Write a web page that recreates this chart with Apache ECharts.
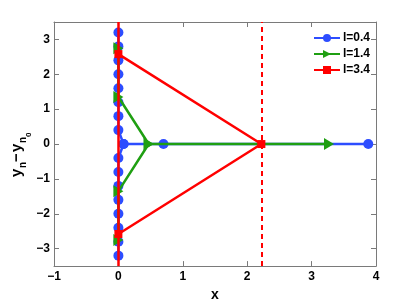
<!DOCTYPE html>
<html><head><meta charset="utf-8">
<script src="https://cdn.jsdelivr.net/npm/echarts@6/dist/echarts.min.js"></script>
<style>html,body{margin:0;padding:0;background:#fff}#c{width:415px;height:307px}</style>
</head><body><div id="c"></div><script>
const seriesNames = ['l=0.4', 'l=1.4', 'l=3.4'];
const xTicks = [-1, 0, 1, 2, 3, 4];
const yTicks = [-3, -2, -1, 0, 1, 2, 3];
const xRange = [-1, 4];
const yRange = [-3.5, 3.5];
// l=0.4 (blue circles)
const l04Vertical = [[0,3.2],[0,2.8],[0,2.4],[0,2.0],[0,1.6],[0,1.2],[0,0.8],[0,0.4],[0.08,0],[0,-0.4],[0,-0.8],[0,-1.2],[0,-1.6],[0,-2.0],[0,-2.4],[0,-2.8],[0,-3.2]];
const l04Horizontal = [[0.08,0],[0.7,0],[3.88,0]];
// l=1.4 (green triangles)
const l14Branches = [[0,2.75],[0,1.35],[0.47,0],[0,-1.35],[0,-2.75]];
const l14Horizontal = [[0.47,0],[3.27,0]];
// l=3.4 (red squares)
const l34Branches = [[0,2.58],[2.22,0],[0,-2.58]];
const vLineSolidX = 0;
const vLineDashedX = 2.22;

const BLUE = '#2d4dff', GREEN = '#1f9f12', RED = '#ff0000';
const AX = '#7a7a7a';
const FONT = 'Liberation Sans';
const minusFmt = v => String(v).replace('-', '\u2212');
const triRight = 'path://M0,0L10,5L0,10Z';

function lineSeries(name, data, color, symbol, size, z) {
  return {
    name, type: 'line', data, z,
    symbol, symbolSize: size, showSymbol: true,
    itemStyle: { color, opacity: 1 },
    lineStyle: { color, width: 2.5 },
    emphasis: { disabled: true },
    animation: false, clip: false
  };
}

const axisBase = {
  type: 'value', splitLine: { show: false },
  axisLine: { show: true, onZero: false, lineStyle: { color: AX, width: 1 } },
  axisTick: { show: true, inside: true, length: 5, lineStyle: { color: AX } },
  axisLabel: { color: '#000', fontFamily: FONT, fontWeight: 'bold', fontSize: 12, formatter: minusFmt }
};

const chart = echarts.init(document.getElementById('c'), null, { renderer: 'canvas' });
const redSeries = lineSeries(seriesNames[2], l34Branches, RED, 'rect', 8, 4);
redSeries.markLine = {
  silent: true, symbol: ['none', 'none'], label: { show: false }, animation: false,
  data: [
    { xAxis: vLineSolidX, lineStyle: { color: RED, width: 2.5, type: 'solid' } },
    { xAxis: vLineDashedX, lineStyle: { color: RED, width: 2, type: [5, 4] } }
  ]
};
chart.setOption({
  animation: false,
  backgroundColor: '#fff',
  grid: { left: 54, right: 39, top: 22, bottom: 35, containLabel: false },
  legend: {
    left: 313, top: 32, orient: 'vertical', padding: 0,
    itemWidth: 26, itemHeight: 10, itemGap: 4,
    data: seriesNames,
    textStyle: { color: '#000', fontFamily: FONT, fontWeight: 'bold', fontSize: 12, padding: [0, 0, 0, -2] },
    selectedMode: false
  },
  xAxis: [
    Object.assign({}, axisBase, {
      position: 'bottom', min: xRange[0], max: xRange[1], interval: 1,
      axisLabel: Object.assign({}, axisBase.axisLabel, { margin: 5, customValues: xTicks }),
      axisTick: Object.assign({}, axisBase.axisTick, { customValues: xTicks }),
      name: 'x', nameLocation: 'middle', nameGap: 20,
      nameTextStyle: { color: '#000', fontFamily: FONT, fontWeight: 'bold', fontSize: 14 }
    }),
    Object.assign({}, axisBase, {
      position: 'top', min: xRange[0], max: xRange[1], interval: 1,
      axisLabel: { show: false },
      axisTick: Object.assign({}, axisBase.axisTick, { customValues: xTicks })
    })
  ],
  yAxis: [
    Object.assign({}, axisBase, {
      position: 'left', min: yRange[0], max: yRange[1],
      axisLabel: Object.assign({}, axisBase.axisLabel, { margin: 4, customValues: yTicks }),
      axisTick: Object.assign({}, axisBase.axisTick, { customValues: yTicks })
    }),
    Object.assign({}, axisBase, {
      position: 'right', min: yRange[0], max: yRange[1],
      axisLabel: { show: false },
      axisTick: Object.assign({}, axisBase.axisTick, { customValues: yTicks })
    })
  ],
  graphic: [{
    type: 'group', x: 17, y: 177, rotation: Math.PI / 2,
    children: [
      { type: 'text', x: 0, y: 0, style: { text: 'y', font: 'bold 15px ' + FONT, fill: '#000', textVerticalAlign: 'middle' } },
      { type: 'text', x: 9, y: 6, style: { text: 'n', font: 'bold 10px ' + FONT, fill: '#000', textVerticalAlign: 'middle' } },
      { type: 'text', x: 15, y: 0, style: { text: '\u2212', font: 'bold 15px ' + FONT, fill: '#000', textVerticalAlign: 'middle' } },
      { type: 'text', x: 25, y: 0, style: { text: 'y', font: 'bold 15px ' + FONT, fill: '#000', textVerticalAlign: 'middle' } },
      { type: 'text', x: 34, y: 6, style: { text: 'n', font: 'bold 10px ' + FONT, fill: '#000', textVerticalAlign: 'middle' } },
      { type: 'text', x: 40, y: 12, style: { text: '0', font: 'bold 8px ' + FONT, fill: '#000', textVerticalAlign: 'middle' } }
    ]
  }],
  series: [
    lineSeries(seriesNames[0], l04Vertical, BLUE, 'circle', 10, 2),
    lineSeries(seriesNames[0], l04Horizontal, BLUE, 'circle', 10, 2),
    lineSeries(seriesNames[1], l14Branches, GREEN, triRight, [10, 12], 3),
    lineSeries(seriesNames[1], l14Horizontal, GREEN, triRight, [10, 12], 3),
    redSeries
  ]
});
</script></body></html>
